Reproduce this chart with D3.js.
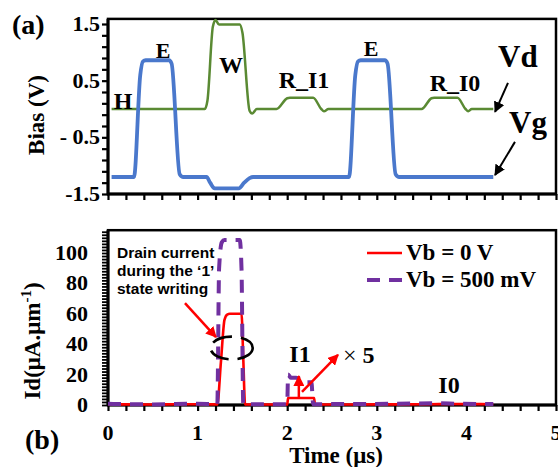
<!DOCTYPE html>
<html><head><meta charset="utf-8">
<script src="https://cdn.jsdelivr.net/npm/d3@7/dist/d3.min.js"></script>
<style>body{margin:0;background:#fff}svg{display:block}</style>
</head><body>
<svg id="c" width="558" height="467"></svg>
<script>
// ---- data (panel a: bias waveforms) ----
const vgTime = [0.04,0.29,0.36,0.39,0.42,0.68,0.71,0.80,0.84,1.10,1.14,1.19,1.46,1.52,1.58,1.62,2.69,2.76,2.79,2.82,3.09,3.12,3.21,3.25,4.30];
const vgVal  = [-1.2,-1.2,0.6,0.84,0.86,0.86,0.8,-1.15,-1.2,-1.2,-1.3,-1.4,-1.4,-1.3,-1.22,-1.2,-1.2,0.6,0.84,0.86,0.86,0.8,-1.15,-1.2,-1.2];
const vdTime = [0.04,1.08,1.11,1.17,1.20,1.24,1.47,1.50,1.58,1.61,1.66,1.88,2.00,2.03,2.29,2.38,2.41,2.46,3.50,3.61,3.64,3.90,3.99,4.02,4.06,4.30];
const vdVal  = [0,0,0.15,1.45,1.57,1.49,1.49,1.35,-0.03,-0.08,0,0,0.19,0.2,0.2,0.0,-0.04,0,0,0.19,0.2,0.2,0.0,-0.04,0,0];
// ---- data (panel b: drain current) ----
const idTime0 = [0.0,0.5,0.8,1.22,1.26,1.30,1.33,1.36,1.49,1.51,1.53,2.00,2.01,2.28,2.30,2.31,3.0,3.6,3.8,4.30];
const idVal0  = [0.5,0.3,0.5,0.4,28,56,59.5,60,60,30,0.3,0.3,4.6,4.6,4.6,0.3,0.4,0.5,0.7,0.5];
const idTime5 = [0.0,0.5,1.0,1.22,1.24,1.27,1.30,1.47,1.49,1.51,2.00,2.01,2.04,2.10,2.20,2.27,2.29,2.5,3.2,3.7,3.9,4.30];
const idVal5  = [0.8,0.4,0.8,0.6,90,107,108.5,108.5,90,0.5,0.5,20,18,18,15,15,0.5,0.6,0.8,1.2,0.8,0.6];
// ---- ticks / labels ----
const xTickVals = d3.range(0, 26).map(i => i * 0.2);
const xLabels = [0,1,2,3,4,5];
const yaTickVals = d3.range(0, 16).map(i => -1.5 + i * 0.2);
const yaLabelVals = [1.5, 0.5, -0.5, -1.5];
const yaLabelText = ["1.5", "0.5", "- 0.5", "-1.5"];
const ybTickVals = d3.range(0, 58).map(i => i * 2);
const ybLabels = [0,20,40,60,80,100];
const legendNames = ["Vb = 0 V", "Vb = 500 mV"];

const svg = d3.select("#c");
const serif = "'Liberation Serif','Times New Roman',serif";
const sans = "'Liberation Sans',Arial,sans-serif";
const x = d3.scaleLinear([0,5],[108,556]);
const yA = d3.scaleLinear([-1.5,1.5],[194,24]);
const yB = d3.scaleLinear([0,100],[405,253]);
const GREEN = "#5a8a33", BLUE = "#4a78cc", RED = "#ff0000", PURPLE = "#7030a0";

const defs = svg.append("defs");
function marker(id, color, size){
  defs.append("marker").attr("id", id).attr("viewBox","0 0 10 10").attr("refX",9).attr("refY",5)
    .attr("markerWidth",size).attr("markerHeight",size).attr("markerUnits","userSpaceOnUse").attr("orient","auto")
    .append("path").attr("d","M0,0 L10,5 L0,10 z").attr("fill",color);
}
marker("ab","#000",11); marker("ar",RED,11);

// ---------- Panel (a) ----------
const gA = svg.append("g");
gA.append("rect").attr("x",x(0)).attr("y",yA(1.59)).attr("width",x(5)-x(0)).attr("height",yA(-1.5)-yA(1.59))
  .attr("fill","none").attr("stroke","#000").attr("stroke-width",2.5);
gA.append("g").attr("transform",`translate(${x(0)},0)`)
  .call(d3.axisLeft(yA).tickValues(yaTickVals).tickSize(6).tickFormat(""))
  .call(g=>{g.select(".domain").remove(); g.selectAll("line").attr("stroke-width",2.2);});
gA.append("g").attr("transform",`translate(0,${yA(-1.5)})`)
  .call(d3.axisBottom(x).tickValues(xTickVals).tickSize(6).tickFormat(""))
  .call(g=>{g.select(".domain").remove(); g.selectAll("line").attr("stroke-width",2.2);});
gA.append("line").attr("x1",x(0)).attr("x2",x(0)).attr("y1",yA(1.59)).attr("y2",yA(-1.5)+1).attr("stroke","#000").attr("stroke-width",3);
gA.append("line").attr("x1",x(0)-1).attr("x2",x(5)).attr("y1",yA(-1.5)).attr("y2",yA(-1.5)).attr("stroke","#000").attr("stroke-width",3);
gA.selectAll("text.yl").data(yaLabelVals).join("text").attr("class","yl")
  .attr("x",100).attr("y",d=>yA(d)+7).attr("text-anchor","end")
  .attr("font-family",serif).attr("font-weight","bold").attr("font-size",22)
  .text((d,i)=>yaLabelText[i]);
gA.append("text").attr("transform","translate(44,115) rotate(-90)").attr("text-anchor","middle")
  .attr("font-family",serif).attr("font-weight","bold").attr("font-size",23).text("Bias (V)");
gA.append("text").attr("x",12).attr("y",34).attr("font-family",serif).attr("font-weight","bold").attr("font-size",28).text("(a)");

const lineA = d3.line().x(d=>x(d[0])).y(d=>yA(d[1])).curve(d3.curveMonotoneX);
gA.append("path").datum(vdTime.map((t,i)=>[t,vdVal[i]])).attr("d",lineA)
  .attr("fill","none").attr("stroke",GREEN).attr("stroke-width",2.5).attr("stroke-linejoin","round");
gA.append("path").datum(vgTime.map((t,i)=>[t,vgVal[i]])).attr("d",lineA)
  .attr("fill","none").attr("stroke",BLUE).attr("stroke-width",3.8).attr("stroke-linejoin","round");

const annA = [["H",123,109,24],["E",163,58,22],["W",231,73,24],["R_I1",304,88,24],["E",371,56,22],["R_I0",455,91,24],["Vd",498,67,31],["Vg",509,133,31]];
gA.selectAll("text.ann").data(annA).join("text").attr("class","ann")
  .attr("x",d=>d[1]).attr("y",d=>d[2]).attr("text-anchor",d=>d[0][0]==="V"?"start":"middle")
  .attr("font-family",serif).attr("font-weight","bold").attr("font-size",d=>d[3]).text(d=>d[0]);
const arrowsA = [[4.464,0.46,4.32,-0.05],[4.542,-0.58,4.32,-1.165]];
gA.selectAll("line.arr").data(arrowsA).join("line").attr("class","arr")
  .attr("x1",d=>x(d[0])).attr("y1",d=>yA(d[1])).attr("x2",d=>x(d[2])).attr("y2",d=>yA(d[3]))
  .attr("stroke","#000").attr("stroke-width",2).attr("marker-end","url(#ab)");

// ---------- Panel (b) ----------
const gB = svg.append("g");
gB.append("rect").attr("x",x(0)).attr("y",yB(115)).attr("width",x(5)-x(0)).attr("height",yB(0)-yB(115))
  .attr("fill","none").attr("stroke","#000").attr("stroke-width",2.5);
gB.append("g").attr("transform",`translate(${x(0)},0)`)
  .call(d3.axisLeft(yB).tickValues(ybTickVals).tickSize(6).tickFormat(""))
  .call(g=>{g.select(".domain").remove(); g.selectAll("line").attr("stroke-width",1.8);});
gB.append("g").attr("transform",`translate(0,${yB(0)})`)
  .call(d3.axisBottom(x).tickValues(xTickVals).tickSize(6).tickFormat(""))
  .call(g=>{g.select(".domain").remove(); g.selectAll("line").attr("stroke-width",2.2);});
gB.append("line").attr("x1",x(0)).attr("x2",x(0)).attr("y1",yB(115)).attr("y2",yB(0)+1).attr("stroke","#000").attr("stroke-width",3);
gB.append("line").attr("x1",x(0)-1).attr("x2",x(5)).attr("y1",yB(0)).attr("y2",yB(0)).attr("stroke","#000").attr("stroke-width",3);
gB.selectAll("text.yl").data(ybLabels).join("text").attr("class","yl")
  .attr("x",88).attr("y",d=>yB(d)+7).attr("text-anchor","end")
  .attr("font-family",serif).attr("font-weight","bold").attr("font-size",22).text(d=>d);
gB.selectAll("text.xl").data(xLabels).join("text").attr("class","xl")
  .attr("x",d=>x(d)).attr("y",440).attr("text-anchor","middle")
  .attr("font-family",serif).attr("font-weight","bold").attr("font-size",22).text(d=>d);
const yt = gB.append("text").attr("transform","translate(40,341) rotate(-90)").attr("text-anchor","middle")
  .attr("font-family",serif).attr("font-weight","bold").attr("font-size",23);
yt.append("tspan").text("Id(μA.μm");
yt.append("tspan").attr("font-size",15).attr("dy",-9).text("-1");
yt.append("tspan").attr("dy",9).text(")");
gB.append("text").attr("x",336).attr("y",463).attr("text-anchor","middle")
  .attr("font-family",serif).attr("font-weight","bold").attr("font-size",23).text("Time (μs)");
gB.append("text").attr("x",25).attr("y",449).attr("font-family",serif).attr("font-weight","bold").attr("font-size",28).text("(b)");

const lineB = d3.line().x(d=>x(d[0])).y(d=>yB(d[1])).curve(d3.curveMonotoneX);
gB.append("path").datum(idTime0.map((t,i)=>[t,idVal0[i]])).attr("d",lineB)
  .attr("fill","none").attr("stroke",RED).attr("stroke-width",2.6).attr("stroke-linejoin","round");
gB.append("path").datum(idTime5.map((t,i)=>[t,idVal5[i]])).attr("d",lineB)
  .attr("fill","none").attr("stroke",PURPLE).attr("stroke-width",4).attr("stroke-dasharray","13,9");

// ellipse annotation
gB.append("ellipse").attr("cx",x(1.38)).attr("cy",yB(37.5)).attr("rx",x(1.38)-x(1.145)).attr("ry",yB(30)-yB(37.5))
  .attr("fill","none").attr("stroke","#000").attr("stroke-width",2.6).attr("stroke-dasharray","20,9");
// annotation text
const dt = gB.append("text").attr("font-family",sans).attr("font-weight","bold").attr("font-size",15.5);
["Drain current","during the ‘1’","state writing"].forEach((s,i)=>dt.append("tspan").attr("x",117).attr("y",258+i*18).text(s));
const arrowsB = [[0.859,67,1.205,44.7],[2.13,4.6,2.13,19],[2.165,8.6,2.567,33]];
gB.selectAll("line.arr").data(arrowsB).join("line").attr("class","arr")
  .attr("x1",d=>x(d[0])).attr("y1",d=>yB(d[1])).attr("x2",d=>x(d[2])).attr("y2",d=>yB(d[3]))
  .attr("stroke",RED).attr("stroke-width",2.5).attr("marker-end","url(#ar)");
gB.append("text").attr("x",300).attr("y",362).attr("text-anchor","middle").attr("font-family",serif).attr("font-weight","bold").attr("font-size",24).text("I1");
gB.append("text").attr("x",449).attr("y",393).attr("text-anchor","middle").attr("font-family",serif).attr("font-weight","bold").attr("font-size",24).text("I0");
const x5 = gB.append("text").attr("x",343).attr("y",363).attr("font-family",serif).attr("font-size",24);
x5.append("tspan").text("× ");
x5.append("tspan").attr("font-weight","bold").text("5");

// legend
const leg = gB.selectAll("g.leg").data(legendNames).join("g").attr("class","leg")
  .attr("transform",(d,i)=>`translate(367,${253+i*27})`);
leg.append("line").attr("x1",0).attr("x2",35).attr("y1",0).attr("y2",0)
  .attr("stroke",(d,i)=>i?PURPLE:RED).attr("stroke-width",(d,i)=>i?4:2.6)
  .attr("stroke-dasharray",(d,i)=>i?"13,9":null);
leg.append("text").attr("x",39).attr("y",7).attr("font-family",serif).attr("font-weight","bold").attr("font-size",23).text(d=>d);
</script>
</body></html>
